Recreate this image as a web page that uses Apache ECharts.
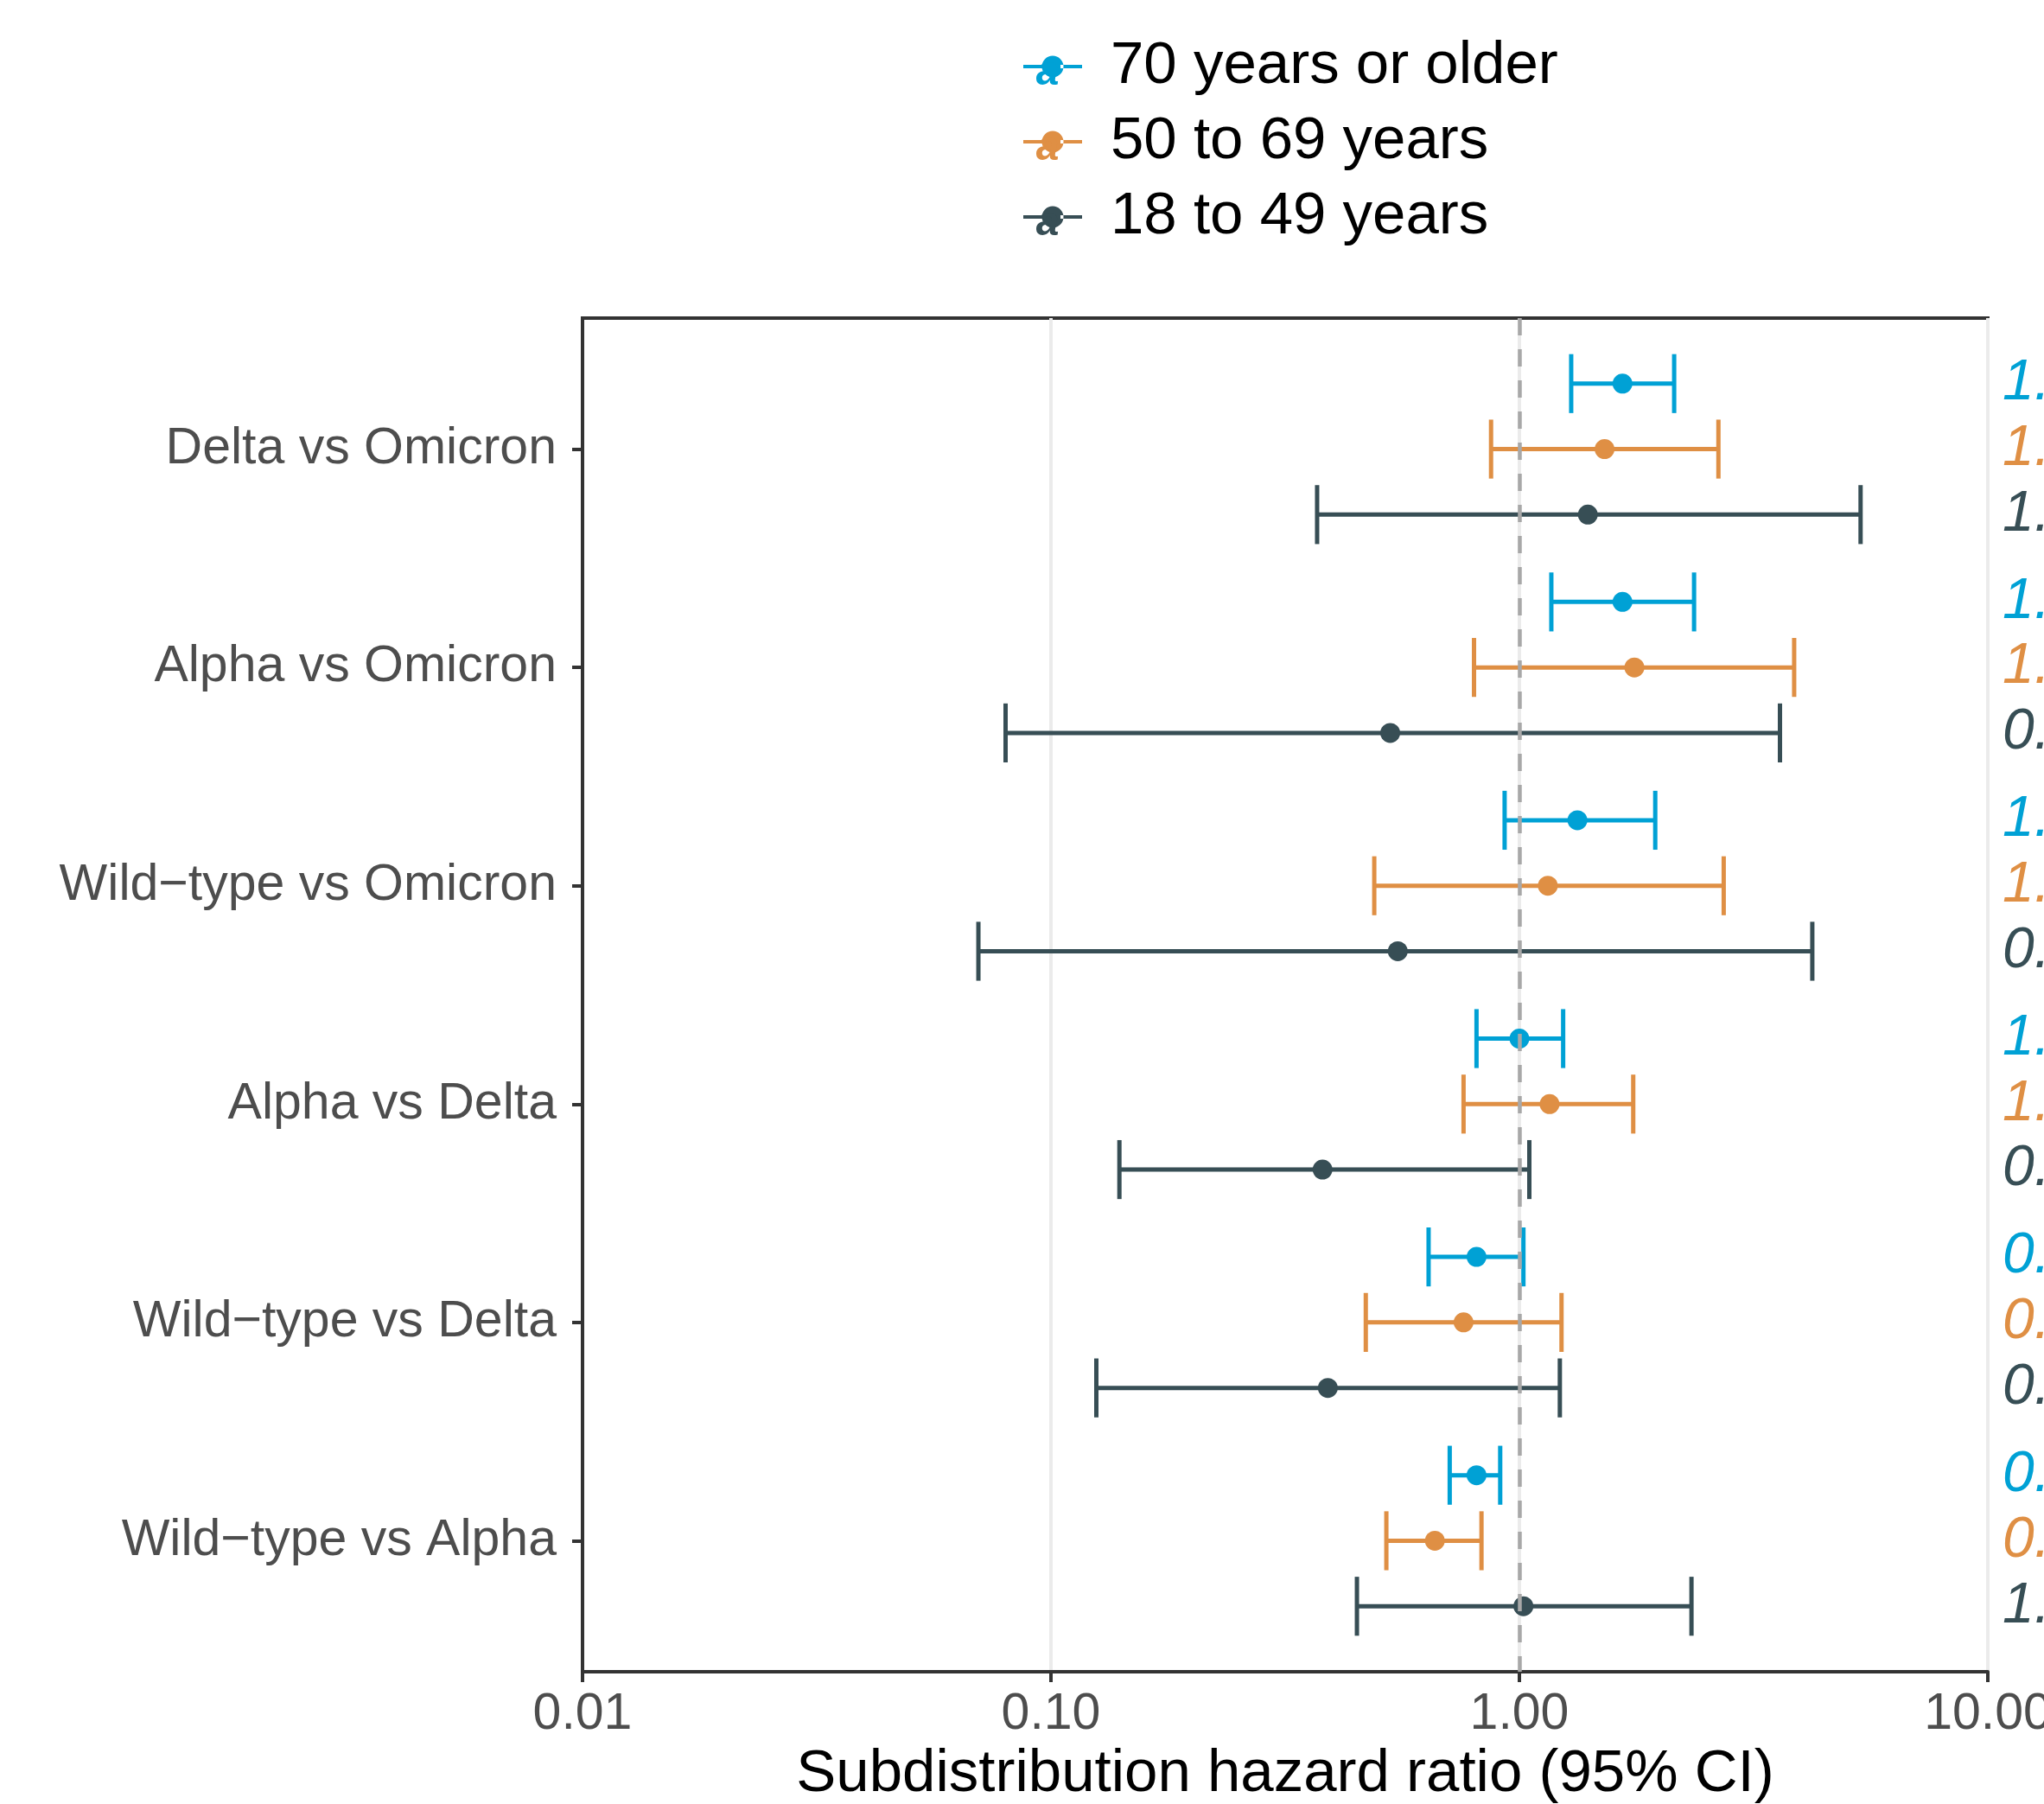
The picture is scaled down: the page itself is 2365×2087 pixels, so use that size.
<!DOCTYPE html>
<html><head><meta charset="utf-8">
<script src="https://cdn.jsdelivr.net/npm/echarts@6/dist/echarts.min.js"></script>
<style>html,body{margin:0;padding:0;background:#fff;overflow:hidden}#c{width:2365px;height:2087px}</style>
</head><body><div id="c"></div>
<script>
// ---- data ----
const categories = ["Delta vs Omicron", "Alpha vs Omicron", "Wild\u2212type vs Omicron", "Alpha vs Delta", "Wild\u2212type vs Delta", "Wild\u2212type vs Alpha"];
const groups = ["70 years or older", "50 to 69 years", "18 to 49 years"];
const est70 = [1.66, 1.66, 1.33, 1.00, 0.81, 0.81];
const lo70  = [1.29, 1.17, 0.93, 0.81, 0.64, 0.71];
const hi70  = [2.14, 2.36, 1.95, 1.24, 1.02, 0.91];
const est50 = [1.52, 1.76, 1.15, 1.16, 0.76, 0.66];
const lo50  = [0.87, 0.80, 0.49, 0.76, 0.47, 0.52];
const hi50  = [2.66, 3.86, 2.73, 1.75, 1.23, 0.83];
const est18 = [1.40, 0.53, 0.55, 0.38, 0.39, 1.02];
const lo18  = [0.37, 0.08, 0.07, 0.14, 0.125, 0.45];
const hi18  = [5.35, 3.60, 4.22, 1.05, 1.22, 2.33];
const xTickValues = [0.01, 0.1, 1, 10];
const refValue = 1;

// ---- styling / layout ----
const colors = ["#00A1D5", "#DF8F44", "#374E55"];
const dodge = [-0.3, 0, 0.3];
const CAP = 0.135;
const FONT = "Liberation Sans, Arial, Helvetica, sans-serif";
const XMIN = 0.01, XMAX = 10;
const LEG_LEFT = 1179, LEG_TOP = 37, LEG_ROW = 87, LEG_ITEM_H = 70;

const seriesData = [
  {est: est70, lo: lo70, hi: hi70},
  {est: est50, lo: lo50, hi: hi50},
  {est: est18, lo: lo18, hi: hi18}
];
const fmt = v => v.toFixed(2);

const series = [];
seriesData.forEach((d, g) => {
  const off = dodge[g];
  // error bars
  series.push({
    type: 'custom', name: groups[g], z: 2, clip: false,
    data: d.est.map((_, i) => [d.lo[i], i, d.hi[i]]),
    encode: {x: [0, 2], y: 1},
    renderItem: (params, api) => {
      const lo = api.value(0), idx = api.value(1), hi = api.value(2);
      const y = idx + off;
      const a = api.coord([lo, y]), b = api.coord([hi, y]);
      const t = api.coord([lo, y - CAP]), u = api.coord([lo, y + CAP]);
      const st = {stroke: colors[g], lineWidth: 5, lineCap: 'butt'};
      return {type: 'group', children: [
        {type: 'line', shape: {x1: a[0], y1: a[1], x2: b[0], y2: b[1]}, style: st},
        {type: 'line', shape: {x1: a[0], y1: t[1], x2: a[0], y2: u[1]}, style: st},
        {type: 'line', shape: {x1: b[0], y1: t[1], x2: b[0], y2: u[1]}, style: st}
      ]};
    }
  });
  // points
  series.push({
    type: 'scatter', name: groups[g], z: 3,
    symbol: 'circle', symbolSize: 23,
    itemStyle: {color: colors[g], opacity: 1},
    data: d.est.map((v, i) => [v, i + off])
  });
  // right-side estimate labels
  series.push({
    type: 'custom', name: groups[g], z: 4, clip: false, silent: true,
    data: d.est.map((v, i) => [v, i, d.lo[i], d.hi[i]]),
    encode: {x: 0, y: 1},
    renderItem: (params, api) => {
      const idx = api.value(1);
      const p = api.coord([XMAX, idx + off]);
      const txt = fmt(api.value(0)) + ' (' + fmt(api.value(2)) + ', ' + fmt(api.value(3)) + ')';
      return {type: 'text', x: p[0] + 17, y: p[1], style: {
        text: txt, fill: colors[g], font: 'italic 66px ' + FONT, align: 'left', verticalAlign: 'middle'
      }};
    }
  });
});
// dashed reference line on top
series.push({
  type: 'scatter', name: 'ref', z: 10, data: [], silent: true,
  markLine: {
    silent: true, symbol: ['none', 'none'], label: {show: false},
    lineStyle: {color: '#A8A8A8', width: 4.5, type: [20, 16]},
    emphasis: {disabled: true},
    data: [{xAxis: refValue}]
  }
});

const legendIcon = 'path://M0,10.5H25V14.5H0Z M43,10.5H68V14.5H43Z M21.5,12.5A12.5,12.5,0,1,0,46.5,12.5A12.5,12.5,0,1,0,21.5,12.5Z';

const chart = echarts.init(document.getElementById('c'), null, {renderer: 'canvas'});
chart.setOption({
  animation: false,
  backgroundColor: '#ffffff',
  grid: {left: 674, right: 65, top: 368, bottom: 153, show: true, borderColor: '#333333', borderWidth: 4,
    backgroundColor: 'transparent', containLabel: false, outerBoundsMode: 'none'},
  legend: {
    orient: 'vertical', left: LEG_LEFT, top: LEG_TOP, itemWidth: 68, itemHeight: 25,
    itemGap: LEG_ROW - LEG_ITEM_H, selectedMode: false,
    textStyle: {fontSize: 69, lineHeight: LEG_ITEM_H, color: '#000', fontFamily: FONT, padding: [0, 0, 0, 28]},
    data: groups.map((n, g) => ({name: n, icon: legendIcon, itemStyle: {color: colors[g]}}))
  },
  graphic: groups.map((n, g) => ({
    type: 'text', z: 100,
    x: LEG_LEFT + 33, y: LEG_TOP + LEG_ITEM_H / 2 + 13 + g * LEG_ROW,
    style: {text: 'a', fill: colors[g], font: 'italic bold 48px ' + FONT, align: 'center', verticalAlign: 'middle'}
  })),
  xAxis: {
    type: 'log', logBase: 10, min: XMIN, max: XMAX,
    name: 'Subdistribution hazard ratio (95% CI)', nameLocation: 'middle', nameGap: 84,
    nameTextStyle: {fontSize: 69, color: '#000', fontFamily: FONT},
    axisLine: {show: true, onZero: false, lineStyle: {color: '#333333', width: 4}},
    axisTick: {show: true, length: 12, lineStyle: {color: '#333333', width: 4}, customValues: xTickValues},
    axisLabel: {fontSize: 59, color: '#4D4D4D', fontFamily: FONT, margin: 20, formatter: v => fmt(v), customValues: xTickValues, hideOverlap: false},
    splitLine: {show: true, lineStyle: {color: '#EBEBEB', width: 4}},
    minorTick: {show: false}
  },
  yAxis: {
    type: 'value', inverse: true, min: -0.6, max: 5.6,
    axisLine: {show: true, onZero: false, lineStyle: {color: '#333333', width: 4}},
    axisTick: {show: true, length: 12, lineStyle: {color: '#333333', width: 4}, customValues: categories.map((_, i) => i)},
    axisLabel: {fontSize: 59, color: '#4D4D4D', fontFamily: FONT, margin: 30,
      customValues: categories.map((_, i) => i), formatter: v => categories[Math.round(v)]},
    splitLine: {show: false}
  },
  series: series
});
</script></body></html>
